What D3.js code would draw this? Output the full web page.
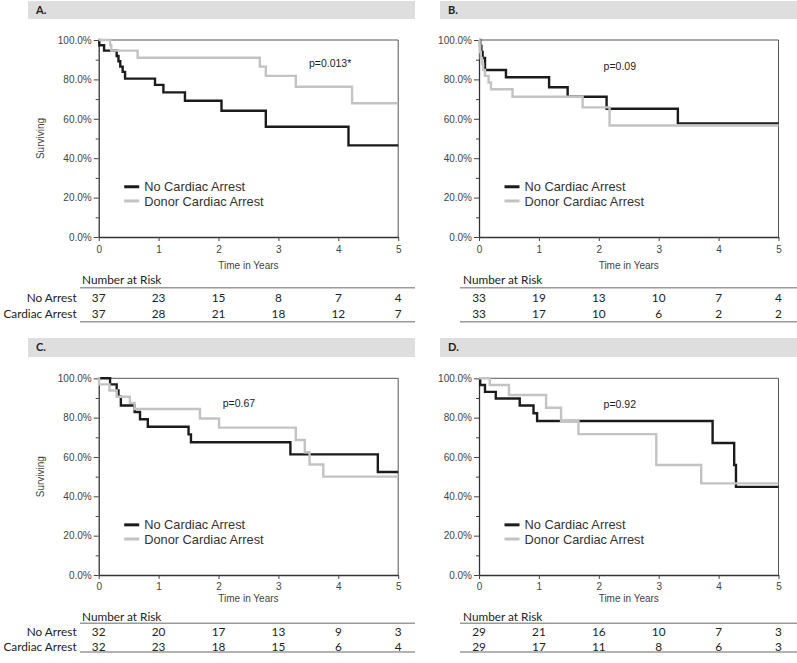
<!DOCTYPE html>
<html><head><meta charset="utf-8">
<script src="https://cdn.jsdelivr.net/npm/d3@7"></script>
<style>body{margin:0;background:#fff}svg{display:block}</style>
</head><body><svg id="c" width="797" height="663"></svg>
<script>
// ---------- data ----------
const panelLabels = ["A.", "B.", "C.", "D."];
const pValues = ["p=0.013*", "p=0.09", "p=0.67", "p=0.92"];
const seriesNames = ["No Cardiac Arrest", "Donor Cardiac Arrest"];
const riskRowLabels = ["No Arrest", "Cardiac Arrest"];
const xTicks = [0, 1, 2, 3, 4, 5];
const yTicks = [0, 20, 40, 60, 80, 100];
const yMinorTicks = [10, 30, 50, 70, 90];

const aNoTime = [0, 0.01, 0.09, 0.3, 0.33, 0.36, 0.4, 0.44, 0.94, 1.08, 1.44, 2.05, 2.79, 4.17, 5];
const aNoSurv = [100, 97.3, 94.6, 91.9, 89.2, 86.5, 83.8, 80.4, 77.2, 73.4, 69.2, 64.1, 56.0, 46.5, 46.5];
const aCaTime = [0, 0.19, 0.21, 0.65, 2.69, 2.79, 3.29, 4.23, 5];
const aCaSurv = [100, 97.3, 94.6, 91.0, 86.5, 81.8, 76.3, 67.9, 67.9];

const bNoTime = [0, 0.02, 0.04, 0.06, 0.1, 0.45, 1.17, 1.48, 2.13, 3.32, 5];
const bNoSurv = [100, 97.0, 93.9, 90.9, 84.8, 81.1, 76.0, 71.2, 65.1, 57.7, 57.7];
const bCaTime = [0, 0.01, 0.02, 0.03, 0.05, 0.07, 0.1, 0.16, 0.2, 0.56, 1.73, 2.18, 5];
const bCaSurv = [100, 97.0, 93.9, 90.9, 87.9, 84.8, 81.8, 78.4, 75.0, 71.2, 65.8, 56.6, 56.6];

const cNoTime = [0, 0.19, 0.3, 0.33, 0.37, 0.6, 0.69, 0.82, 1.5, 1.54, 3.2, 4.66, 5];
const cNoSurv = [100, 96.9, 93.8, 90.6, 86.2, 82.9, 79.2, 75.4, 71.5, 67.5, 61.3, 52.4, 52.4];
const cCaTime = [0, 0.005, 0.18, 0.3, 0.52, 0.6, 1.69, 2.01, 3.29, 3.44, 3.52, 3.75, 5];
const cCaSurv = [100, 96.9, 93.8, 90.6, 87.5, 84.4, 79.6, 74.9, 68.6, 62.4, 56.2, 50.0, 50.0];

const dNoTime = [0, 0.02, 0.1, 0.28, 0.68, 0.91, 0.97, 3.9, 4.26, 4.29, 5];
const dNoSurv = [100, 96.6, 93.1, 89.7, 86.2, 82.2, 78.3, 67.1, 55.9, 44.8, 44.8];
const dCaTime = [0, 0.18, 0.5, 1.12, 1.37, 1.66, 2.96, 3.71, 5];
const dCaSurv = [100, 96.6, 91.5, 85.0, 78.3, 71.6, 55.9, 46.6, 46.6];

const aRiskNo = [37, 23, 15, 8, 7, 4];
const aRiskCa = [37, 28, 21, 18, 12, 7];
const bRiskNo = [33, 19, 13, 10, 7, 4];
const bRiskCa = [33, 17, 10, 6, 2, 2];
const cRiskNo = [32, 20, 17, 13, 9, 3];
const cRiskCa = [32, 23, 18, 15, 6, 4];
const dRiskNo = [29, 21, 16, 10, 7, 3];
const dRiskCa = [29, 17, 11, 8, 6, 3];

// ---------- layout ----------
const zip = (t, s) => t.map((v, i) => ({t: v, s: s[i]}));
const topRow = {plotTop: 40, plotBot: 237, header: [1, 18], time: 265, nar: 280, line1: 287.7, r1: 297.7, r2: 314, line2: 321.7};
const botRow = {plotTop: 378.3, plotBot: 575, header: [338, 19], time: 598.5, nar: 617, line1: 623.3, r1: 631.8, r2: 646.4, line2: 652};
const leftCol = {plotL: 98.7, headX: 28, headW: 387, tabL: 80, tabR: 415, narX: 82, rowLabels: true, yLabel: true};
const rightCol = {plotL: 479, headX: 440, headW: 357, tabL: 460, tabR: 797, narX: 463, rowLabels: false, yLabel: false};

const panels = [
  {row: topRow, col: leftCol, no: zip(aNoTime, aNoSurv), ca: zip(aCaTime, aCaSurv), rn: aRiskNo, rc: aRiskCa, pPos: [3.51, 88.3]},
  {row: topRow, col: rightCol, no: zip(bNoTime, bNoSurv), ca: zip(bCaTime, bCaSurv), rn: bRiskNo, rc: bRiskCa, pPos: [2.08, 86.4]},
  {row: botRow, col: leftCol, no: zip(cNoTime, cNoSurv), ca: zip(cCaTime, cCaSurv), rn: cRiskNo, rc: cRiskCa, pPos: [2.07, 87.3]},
  {row: botRow, col: rightCol, no: zip(dNoTime, dNoSurv), ca: zip(dCaTime, dCaSurv), rn: dRiskNo, rc: dRiskCa, pPos: [2.08, 86.9]}
];

const BLACK = "#1b1b1b", GREY = "#c3c3c3";
const axisFont = "'Liberation Sans', Arial, sans-serif";
const tabFont = "Lato, 'Open Sans', sans-serif";
const TAB_SIZE = 11.8;
const svg = d3.select("#c");

panels.forEach((p, i) => {
  const R = p.row, C = p.col;
  const g = svg.append("g");
  // header
  g.append("rect").attr("x", C.headX).attr("y", R.header[0]).attr("width", C.headW).attr("height", R.header[1]).attr("fill", "#dedede");
  g.append("text").attr("x", C.headX + 8).attr("y", R.header[0] + R.header[1] / 2).attr("dy", "0.36em")
    .attr("font-family", tabFont).attr("font-weight", "bold").attr("font-size", 11).attr("fill", "#222").text(panelLabels[i]);

  const x = d3.scaleLinear().domain([0, 5]).range([C.plotL, C.plotL + 299.5]);
  const y = d3.scaleLinear().domain([0, 100]).range([R.plotBot, R.plotTop]);

  // frame top/right
  g.append("line").attr("x1", x(0)).attr("x2", x(5)).attr("y1", y(100)).attr("y2", y(100)).attr("stroke", "#555").attr("stroke-width", 1);
  g.append("line").attr("x1", x(5)).attr("x2", x(5)).attr("y1", y(100)).attr("y2", y(0)).attr("stroke", "#555").attr("stroke-width", 1);

  // axes
  g.append("g").attr("transform", `translate(${x(0)},0)`)
    .call(d3.axisLeft(y).tickValues(yTicks).tickFormat(d => d.toFixed(1) + "%").tickSize(5).tickPadding(2).tickSizeOuter(0));
  g.append("g").attr("transform", `translate(${x(0)},0)`)
    .call(d3.axisLeft(y).tickValues(yMinorTicks).tickFormat("").tickSize(3).tickSizeOuter(0))
    .call(s => s.select(".domain").remove());
  g.append("g").attr("transform", `translate(0,${y(0)})`)
    .call(d3.axisBottom(x).tickValues(xTicks).tickFormat(d3.format("d")).tickSize(4).tickPadding(R === topRow ? 4.5 : 4).tickSizeOuter(0));
  g.selectAll(".tick text").attr("font-family", axisFont).attr("font-size", 10).attr("fill", "#444");
  g.selectAll(".tick line").attr("stroke", "#444");
  g.selectAll(".domain").attr("stroke", "#333").attr("stroke-width", 1.3);

  // axis titles
  g.append("text").attr("x", (x(0) + x(5)) / 2).attr("y", R.time).attr("dy", "0.35em").attr("text-anchor", "middle")
    .attr("font-family", axisFont).attr("font-size", 10).attr("fill", "#444").text("Time in Years");
  if (C.yLabel) {
    const cy = (y(0) + y(100)) / 2;
    g.append("text").attr("transform", `translate(40,${cy}) rotate(-90)`).attr("dy", "0.35em").attr("text-anchor", "middle")
      .attr("font-family", axisFont).attr("font-size", 10).attr("fill", "#444").text("Surviving");
  }

  // curves
  const line = d3.line().x(d => x(d.t)).y(d => y(d.s)).curve(d3.curveStepAfter);
  g.append("path").datum(p.no).attr("d", line).attr("fill", "none").attr("stroke", BLACK).attr("stroke-width", 2.4);
  g.append("path").datum(p.ca).attr("d", line).attr("fill", "none").attr("stroke", GREY).attr("stroke-width", 2.4);

  // p value
  g.append("text").attr("x", x(p.pPos[0])).attr("y", y(p.pPos[1])).attr("dy", "0.35em")
    .attr("font-family", axisFont).attr("font-size", 10.5).attr("fill", "#222").text(pValues[i]);

  // legend
  const lx = x(0) + 25.5;
  [[25.5, BLACK], [18.3, GREY]].forEach(([v, col], k) => {
    const ly = y(v);
    g.append("line").attr("x1", lx).attr("x2", lx + 15).attr("y1", ly).attr("y2", ly).attr("stroke", col).attr("stroke-width", 3);
    g.append("text").attr("x", lx + 20).attr("y", ly).attr("dy", "0.36em").attr("font-family", axisFont)
      .attr("font-size", 12.8).attr("fill", "#333").text(seriesNames[k]);
  });

  // risk table
  g.append("text").attr("x", C.narX).attr("y", R.nar).attr("dy", "0.35em").attr("font-family", tabFont)
    .attr("font-size", TAB_SIZE).attr("fill", "#222").text("Number at Risk");
  [R.line1, R.line2].forEach(ly => g.append("line").attr("x1", C.tabL).attr("x2", C.tabR).attr("y1", ly).attr("y2", ly)
    .attr("stroke", "#9a9a9a").attr("stroke-width", 1.5));
  [[p.rn, R.r1], [p.rc, R.r2]].forEach(([vals, ry], k) => {
    g.selectAll(null).data(vals).enter().append("text").attr("x", (d, j) => x(xTicks[j])).attr("y", ry).attr("dy", "0.35em")
      .attr("text-anchor", "middle").attr("font-family", tabFont).attr("font-size", TAB_SIZE).attr("fill", "#222").text(d => d);
    if (C.rowLabels) {
      g.append("text").attr("x", 76.7).attr("y", ry).attr("dy", "0.35em").attr("text-anchor", "end")
        .attr("font-family", tabFont).attr("font-size", TAB_SIZE).attr("fill", "#222").text(riskRowLabels[k]);
    }
  });
});
</script></body></html>
